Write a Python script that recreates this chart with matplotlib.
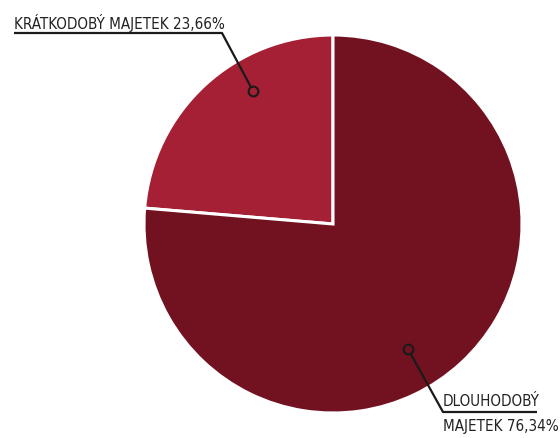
import numpy as np
import matplotlib
matplotlib.use("Agg")
import matplotlib.pyplot as plt

labels = ["KRÁTKODOBÝ MAJETEK", "DLOUHODOBÝ MAJETEK"]
shares = [23.66, 76.34]
colors = ["#A52034", "#721220"]

plt.rcParams['font.family'] = ['DejaVu Sans']
plt.rcParams['font.stretch'] = 'condensed'

W, H = 560, 439
fig = plt.figure(figsize=(W / 100, H / 100), dpi=100)
ax = fig.add_axes([0, 0, 1, 1])

cx, cy, r = 333, H - 225, 189
wedges, _ = ax.pie(shares, colors=colors, startangle=90, counterclock=True,
                   center=(cx, cy), radius=r, frame=True,
                   wedgeprops=dict(edgecolor='white', linewidth=2.2))
ax.set_xlim(0, W)
ax.set_ylim(0, H)
ax.set_aspect('equal')
ax.axis('off')

def fmt(v):
    return f"{v:.2f}".replace('.', ',') + "%"

fs = 10.9
# leader for the small slice
pts = [(253, 92), (222, 34), (14, 34)]
xs = [p[0] for p in pts]; ys = [H - p[1] for p in pts]
ax.plot(xs, ys, color='#1a1a1a', lw=1.6, solid_capstyle='butt', zorder=5)
ax.plot(xs[0], ys[0], 'o', ms=7, mfc=colors[0], mec='#1a1a1a', mew=1.5, zorder=6)
ax.text(14, H - 29, f"{labels[0]} {fmt(shares[0])}", fontsize=fs,
        color='#222222', ha='left', va='baseline', zorder=6)

# leader for the large slice
pts = [(408, 350), (443, 413), (537, 413)]
xs = [p[0] for p in pts]; ys = [H - p[1] for p in pts]
ax.plot(xs, ys, color='#1a1a1a', lw=1.6, solid_capstyle='butt', zorder=5)
ax.plot(xs[0], ys[0], 'o', ms=7, mfc=colors[1], mec='#1a1a1a', mew=1.5, zorder=6)
w1, w2 = labels[1].split(' ')
ax.text(443, H - 406, w1, fontsize=fs, color='#222222',
        ha='left', va='baseline', zorder=6)
ax.text(443, H - 431, f"{w2} {fmt(shares[1])}", fontsize=fs, color='#222222',
        ha='left', va='baseline', zorder=6)

fig.savefig("out.png", dpi=100, facecolor='white')
